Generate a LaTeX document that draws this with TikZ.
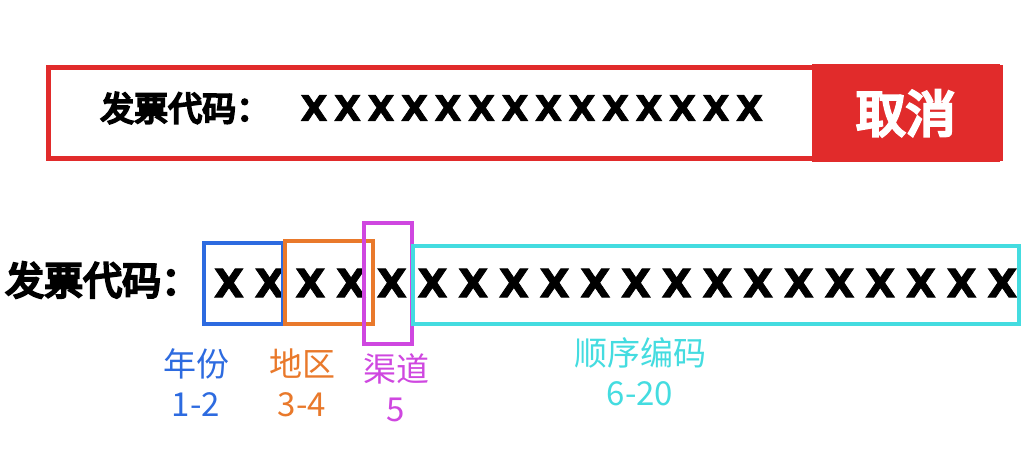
\documentclass[tikz,border=0pt]{standalone}
\usepackage{fontspec}
\newfontfamily\cjk{Noto Sans CJK SC}
\newfontfamily\cjkb{Noto Sans CJK SC}[FakeBold=6]
\newfontfamily\xf{DejaVu Sans}[FakeBold=2]
\definecolor{cred}{HTML}{E12B2B}
\definecolor{cblue}{HTML}{2D6BE0}
\definecolor{corange}{HTML}{E9792B}
\definecolor{cpurple}{HTML}{CF47E0}
\definecolor{ccyan}{HTML}{44DCE0}
\begin{document}
\begin{tikzpicture}[x=1pt,y=-1pt,
  xt/.style={font=\xf\bfseries\fontsize{35}{35}\selectfont, inner sep=0pt},
  xb/.style={font=\xf\bfseries\fontsize{39}{39}\selectfont, inner sep=0pt},
  lab/.style={font=\cjk\fontsize{33}{40}\selectfont, align=center, inner sep=0pt},
  seg/.style={draw, line width=4.5pt}]
\useasboundingbox[fill=white] (0,0) rectangle (1024,462);
% top
\draw[cred, line width=5pt] (48,68) rectangle (1000,159);
\node[fill=cred, minimum width=188pt, minimum height=98pt, anchor=north east, inner sep=0pt] (cancel) at (1000,64) {};
\node[font=\cjkb\fontsize{50}{50}\selectfont, text=white] (cx) at (cancel.center) {取消};
\node[font=\cjkb\fontsize{34}{34}\selectfont, inner sep=0pt, anchor=west] (tl) at (100,108) {发票代码：};
\foreach \i in {0,...,13} \node[xt] (tx\i) at (314+33.5*\i,108) {X};
% bottom
\node[font=\cjkb\fontsize{39}{39}\selectfont, inner sep=0pt, anchor=west] (bl) at (5,280) {发票代码：};
\foreach \i in {0,...,19} \node[xb] (bx\i) at (229+40.7*\i,283) {X};
\draw[seg, cblue] (204,243) rectangle (283,324);
\draw[seg, corange] (285,241) rectangle (373,324);
\draw[seg, cpurple] (364,223) rectangle (412,344);
\draw[seg, ccyan] (413,246) rectangle (1019,324);
\node[lab, text=cblue] (l1) at (196,383) {年份\\1-2};
\node[lab, text=corange] (l2) at (302,383) {地区\\3-4};
\node[lab, text=cpurple] (l3) at (396,388) {渠道\\5};
\node[lab, text=ccyan] (l4) at (640,372) {顺序编码\\6-20};
\end{tikzpicture}
\end{document}
